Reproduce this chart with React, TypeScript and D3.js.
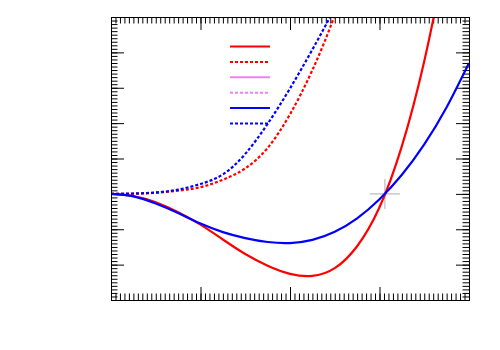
import React, { useEffect, useRef } from "react"
import * as d3 from "d3"

// values (x in [0,4], y in [-3,5])
const xValues = [0, 0.25, 0.5, 0.75, 1, 1.25, 1.5, 1.75, 2, 2.25, 2.5, 2.75, 3, 3.25, 3.5, 3.75, 4]
const redSolid = [0, -0.06, -0.24, -0.52, -0.87, -1.29, -1.7, -2.03, -2.26, -2.32, -2.1, -1.48, -0.38, 1.35, 3.75, 7.0, 11.3]
const blueSolid = [0, -0.07, -0.27, -0.54, -0.84, -1.08, -1.25, -1.36, -1.39, -1.3, -1.07, -0.69, -0.15, 0.54, 1.4, 2.45, 3.7]
const redDotted = [0, 0.005, 0.03, 0.09, 0.19, 0.4, 0.72, 1.3, 2.25, 3.5, 5.05, 6.9, null, null, null, null, null]
const blueDotted = [0, 0.01, 0.04, 0.12, 0.28, 0.55, 1.13, 1.98, 2.98, 4.08, 5.25, 6.5, null, null, null, null, null]

const seriesList = [
    { values: redSolid, color: "#ff0000", dashed: false },
    { values: redDotted, color: "#ff0000", dashed: true },
    { values: blueSolid, color: "#0000ff", dashed: false },
    { values: blueDotted, color: "#0000ff", dashed: true },
]

const legendColors = ["#ff0000", "#ff0000", "#ee82ee", "#ee82ee", "#0000ff", "#0000ff"]
const legendDashed = [false, true, false, true, false, true]

const crossPoint = { x: 3.06, y: 0 }

function App() {
    const ref = useRef<SVGSVGElement>(null)

    useEffect(() => {
        const svg = d3.select(ref.current)
        svg.selectAll("*").remove()

        const left = 111, right = 469, top = 17, bottom = 300

        const xScale = d3.scaleLinear().domain([0, 4]).range([left, right])
        const yScale = d3.scaleLinear().domain([-3, 5]).range([bottom, top])

        const xMajor = d3.range(0, 4.001, 1)
        const xMinor = d3.range(0, 4.001, 0.05)
        const yMajor = d3.range(-3, 5.001, 1)
        const yMinor = d3.range(-3, 5.001, 0.1)

        const tickAxis = (axis: any, ticks: number[], size: number) =>
            axis.tickValues(ticks).tickSize(size).tickFormat(() => "")

        const addAxis = (axis: any, transform: string) => {
            const g = svg.append("g").attr("transform", transform).call(axis)
            g.select(".domain").remove()
            g.selectAll("line").attr("stroke", "#000").attr("stroke-width", 1)
        }

        // ticks on all four sides, pointing inwards
        addAxis(tickAxis(d3.axisBottom(xScale), xMinor, -6.5), `translate(0, ${bottom})`)
        addAxis(tickAxis(d3.axisBottom(xScale), xMajor, -13), `translate(0, ${bottom})`)
        addAxis(tickAxis(d3.axisTop(xScale), xMinor, -6.5), `translate(0, ${top})`)
        addAxis(tickAxis(d3.axisTop(xScale), xMajor, -13), `translate(0, ${top})`)
        addAxis(tickAxis(d3.axisLeft(yScale), yMinor, -6.5), `translate(${left}, 0)`)
        addAxis(tickAxis(d3.axisLeft(yScale), yMajor, -13), `translate(${left}, 0)`)
        addAxis(tickAxis(d3.axisRight(yScale), yMinor, -6.5), `translate(${right}, 0)`)
        addAxis(tickAxis(d3.axisRight(yScale), yMajor, -13), `translate(${right}, 0)`)

        svg.append("clipPath").attr("id", "plot-clip")
            .append("rect")
            .attr("x", left).attr("y", top)
            .attr("width", right - left).attr("height", bottom - top)

        // crosshair
        const cx = xScale(crossPoint.x), cy = yScale(crossPoint.y)
        svg.append("path")
            .attr("d", `M${cx - 15},${cy}H${cx + 15}M${cx},${cy - 15}V${cy + 15}`)
            .attr("stroke", "#bdbdbd")
            .attr("stroke-width", 1.2)
            .attr("fill", "none")

        const line = d3.line<[number, number | null]>()
            .defined(d => d[1] !== null)
            .x(d => xScale(d[0]))
            .y(d => yScale(d[1] as number))
            .curve(d3.curveNatural)

        const plot = svg.append("g").attr("clip-path", "url(#plot-clip)")
        seriesList.forEach(s => {
            plot.append("path")
                .datum(xValues.map((x, i) => [x, s.values[i]] as [number, number | null]))
                .attr("fill", "none")
                .attr("stroke", s.color)
                .attr("stroke-width", 2.2)
                .attr("stroke-dasharray", s.dashed ? "3,2" : null)
                .attr("d", line)
        })

        // key (samples only, no titles)
        legendColors.forEach((c, i) => {
            const ly = 46.5 + i * 15.4
            svg.append("line")
                .attr("x1", 230).attr("x2", 270)
                .attr("y1", ly).attr("y2", ly)
                .attr("stroke", c)
                .attr("stroke-width", 2)
                .attr("stroke-dasharray", legendDashed[i] ? "3,2" : null)
        })

        svg.append("rect")
            .attr("x", left + 0.5).attr("y", top + 0.5)
            .attr("width", right - left).attr("height", bottom - top)
            .attr("fill", "none")
            .attr("stroke", "#000")
            .attr("stroke-width", 1)
    }, [])

    return (
        <svg ref={ref} width={500} height={350}
            style={{ position: "absolute", left: 0, top: 0, background: "#fff" }} />
    )
}

export default App
